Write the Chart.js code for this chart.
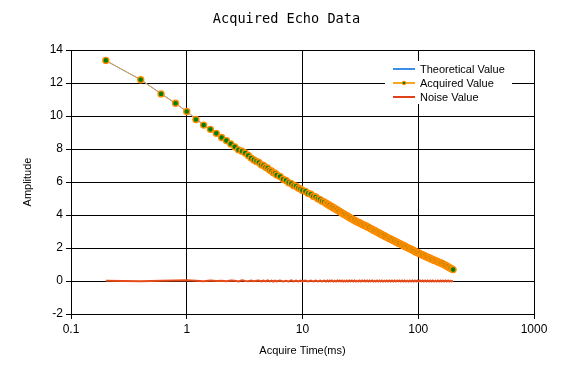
<!DOCTYPE html>
<html>
<head>
<meta charset="utf-8">
<script src="https://cdn.jsdelivr.net/npm/chart.js@4/dist/chart.umd.min.js"></script>
<style>
  body { margin: 0; background: #fff; }
  #wrap { width: 573px; height: 372px; }
</style>
</head>
<body>
<div id="wrap"><canvas id="echo" width="573" height="372"></canvas></div>
<script>
// acquisition times (ms) and amplitudes
const acqTime = [
  0.2, 0.4, 0.6, 0.8, 1.0, 1.2, 1.4, 1.6, 1.8, 2.0,
  2.2, 2.4, 2.6, 2.8, 3.0, 3.2, 3.4, 3.6, 3.8, 4.0,
  4.2, 4.4, 4.6, 4.8, 5.0, 5.2, 5.4, 5.6, 5.8, 6.0,
  6.4, 6.8, 7.2, 7.6, 8.0, 8.4, 8.8, 9.2, 9.6, 10,
  10.6, 11.2, 11.8, 12.4, 13.0, 13.6, 14.2, 14.8, 15.4, 16,
  16.4, 16.8, 17.2, 17.6, 18, 18.5, 19, 19.5, 20, 20.5,
  21, 21.5, 22, 22.5, 23, 23.6, 24.2, 24.8, 25.4, 26,
  26.7, 27.4, 28.1, 28.8, 29.5, 30.3, 31.1, 31.9, 32.7, 33.5,
  34.4, 35.3, 36.2, 37.1, 38, 39, 40, 41, 42, 43,
  44.1, 45.2, 46.3, 47.4, 48.6, 49.8, 51, 52.3, 53.6, 55,
  56.4, 57.8, 59.3, 60.8, 62.4, 64, 65.6, 67.3, 69, 70.8,
  72.6, 74.5, 76.4, 78.4, 80.4, 82.5, 84.6, 86.8, 89, 91.3,
  93.6, 96, 98.5, 101, 103.6, 106.3, 109, 111.8, 114.7, 117.6,
  120.6, 123.7, 126.9, 130.2, 133.6, 137, 140.5, 144.1, 147.8, 151.6,
  155.5, 159.5, 163.6, 167.8, 172.1, 176.5, 181, 185.6, 190.4, 195.2,
  200
];

const acquiredValue = [
  13.37, 12.20, 11.34, 10.77, 10.27, 9.79, 9.45, 9.19, 8.95, 8.70,
  8.51, 8.31, 8.13, 7.95, 7.86, 7.76, 7.61, 7.45, 7.34, 7.25,
  7.18, 7.05, 7.00, 6.89, 6.84, 6.72, 6.67, 6.56, 6.53, 6.42,
  6.33, 6.17, 6.09, 5.96, 5.90, 5.78, 5.74, 5.63, 5.58, 5.49,
  5.43, 5.31, 5.26, 5.14, 5.09, 4.98, 4.93, 4.84, 4.79, 4.70,
  4.67, 4.60, 4.59, 4.51, 4.50, 4.42, 4.41, 4.34, 4.31, 4.24,
  4.22, 4.15, 4.13, 4.06, 4.05, 3.98, 3.96, 3.89, 3.87, 3.81,
  3.78, 3.71, 3.69, 3.62, 3.61, 3.55, 3.53, 3.47, 3.45, 3.40,
  3.38, 3.32, 3.30, 3.24, 3.22, 3.16, 3.14, 3.08, 3.06, 3.00,
  2.98, 2.92, 2.90, 2.84, 2.82, 2.76, 2.75, 2.68, 2.66, 2.60,
  2.58, 2.53, 2.51, 2.45, 2.43, 2.37, 2.35, 2.29, 2.28, 2.22,
  2.20, 2.14, 2.12, 2.06, 2.04, 1.98, 1.97, 1.91, 1.89, 1.83,
  1.81, 1.75, 1.73, 1.68, 1.66, 1.60, 1.59, 1.53, 1.52, 1.46,
  1.45, 1.39, 1.38, 1.32, 1.30, 1.25, 1.24, 1.19, 1.17, 1.12,
  1.11, 1.06, 1.04, 0.98, 0.96, 0.89, 0.87, 0.81, 0.78, 0.72,
  0.69
];

const noiseValue = [
  0.01, -0.02, 0.02, 0.03, 0.05, 0.02, -0.01, 0.03, 0.00, 0.02,
  -0.02, 0.03, 0.01, -0.03, 0.04, 0.00, -0.02, 0.03, -0.01, 0.02,
  0.03, -0.02, 0.02, -0.03, 0.04, -0.02, 0.03, -0.03, 0.03, -0.02,
  0.03, -0.03, 0.02, -0.03, 0.04, -0.02, 0.03, -0.03, 0.03, -0.02,
  0.03, -0.03, 0.02, -0.03, 0.03, -0.02, 0.03, -0.03, 0.02, -0.03,
  0.03, -0.03, 0.03, -0.02, 0.03, -0.03, 0.02, -0.03, 0.03, -0.02,
  0.03, -0.03, 0.03, -0.03, 0.02, -0.03, 0.03, -0.03, 0.03, -0.02,
  0.03, -0.03, 0.03, -0.03, 0.02, -0.03, 0.03, -0.03, 0.03, -0.02,
  0.03, -0.03, 0.03, -0.03, 0.03, -0.02, 0.03, -0.03, 0.02, -0.03,
  0.03, -0.03, 0.03, -0.03, 0.03, -0.03, 0.02, -0.03, 0.03, -0.03,
  0.03, -0.03, 0.03, -0.03, 0.03, -0.03, 0.03, -0.02, 0.03, -0.03,
  0.03, -0.03, 0.03, -0.03, 0.02, -0.03, 0.03, -0.03, 0.03, -0.03,
  0.03, -0.03, 0.03, -0.03, 0.03, -0.02, 0.03, -0.03, 0.03, -0.03,
  0.03, -0.03, 0.03, -0.03, 0.03, -0.03, 0.02, -0.03, 0.03, -0.03,
  0.03, -0.03, 0.03, -0.03, 0.03, -0.03, 0.03, -0.03, 0.02, -0.03,
  0.00
];

// theoretical curve, sparser
const theoTime = [0.2, 0.4, 0.6, 0.8, 1, 1.5, 2, 3, 4, 5, 7, 10, 14, 20, 27, 38, 53, 74, 100, 134, 164, 200];
const theoValue = [13.35, 12.2, 11.36, 10.76, 10.28, 9.3, 8.7, 7.85, 7.25, 6.82, 6.12, 5.5, 4.95, 4.3, 3.73, 3.21, 2.67, 2.16, 1.7, 1.29, 1.03, 0.69];

const xTicks = [0.1, 1, 10, 100, 1000];
const yMin = -2;
const yMax = 14;

const chartTitle = "Acquired Echo Data";
const SANS = '"Liberation Sans", Arial, sans-serif';

function pts(xs, ys) {
  return xs.map((x, i) => ({ x: x, y: ys[i] }));
}

// title centred on the whole canvas, not on the plot
const canvasTitle = {
  id: "canvasTitle",
  afterDraw(chart) {
    const ctx = chart.ctx;
    ctx.save();
    ctx.font = '13.6px "DejaVu Sans Mono", monospace';
    ctx.fillStyle = "#000";
    ctx.textAlign = "center";
    ctx.textBaseline = "middle";
    ctx.fillText(chartTitle, chart.width / 2, 19);
    ctx.restore();
  }
};

// legend drawn inside the plot, top right, on a white box
const insideLegend = {
  id: "insideLegend",
  afterDatasetsDraw(chart) {
    const ctx = chart.ctx;
    const area = chart.chartArea;
    const bx = area.right - 149;
    const by = area.top + 11;

    ctx.save();
    ctx.fillStyle = "#fff";
    ctx.fillRect(bx, by, 127, 43);

    ctx.font = "11px " + SANS;
    ctx.textBaseline = "middle";
    ctx.textAlign = "left";

    chart.data.datasets.forEach((ds, i) => {
      const y = by + 8 + i * 14;
      ctx.strokeStyle = ds.legendColor;
      ctx.lineWidth = 2;
      ctx.beginPath();
      ctx.moveTo(bx + 8, y);
      ctx.lineTo(bx + 30, y);
      ctx.stroke();

      if (ds.pointRadius > 0) {
        ctx.beginPath();
        ctx.arc(bx + 19, y, 1.8, 0, Math.PI * 2);
        ctx.fillStyle = ds.pointBackgroundColor;
        ctx.fill();
        ctx.lineWidth = 1;
        ctx.strokeStyle = ds.pointBorderColor;
        ctx.stroke();
      }

      ctx.fillStyle = "#000";
      ctx.fillText(ds.label, bx + 35, y + 0.5);
    });
    ctx.restore();
  }
};

const chart = new Chart(document.getElementById("echo"), {
  type: "line",
  data: {
    datasets: [
      {
        label: "Theoretical Value",
        data: pts(theoTime, theoValue),
        borderColor: "#3d8ee8",
        legendColor: "#3d8ee8",
        borderWidth: 1,
        pointRadius: 0,
        tension: 0,
        order: 3
      },
      {
        label: "Acquired Value",
        data: pts(acqTime, acquiredValue),
        borderColor: "#e8a040",
        legendColor: "#f5a623",
        borderWidth: 1,
        pointRadius: 3,
        pointBorderWidth: 1.4,
        pointBackgroundColor: "#008000",
        pointBorderColor: "#ff8c00",
        tension: 0,
        order: 2
      },
      {
        label: "Noise Value",
        data: pts(acqTime, noiseValue),
        borderColor: "#e64a19",
        legendColor: "#e0401a",
        borderWidth: 2,
        pointRadius: 0,
        tension: 0,
        order: 1
      }
    ]
  },
  options: {
    responsive: false,
    animation: false,
    devicePixelRatio: 1,
    layout: {
      padding: { left: 0, right: 39, top: 50, bottom: 0 }
    },
    scales: {
      x: {
        type: "logarithmic",
        min: 0.1,
        max: 1000,
        afterBuildTicks: axis => {
          axis.ticks = xTicks.map(v => ({ value: v }));
        },
        afterFit: axis => {
          axis.height = 58;
        },
        ticks: {
          autoSkip: false,
          maxRotation: 0,
          padding: 3,
          color: "#000",
          font: { family: SANS, size: 12 },
          callback: v => String(v)
        },
        grid: {
          color: "#000",
          lineWidth: 1,
          tickLength: 5,
          drawTicks: true
        },
        border: { display: true, color: "#000", width: 1 },
        title: {
          display: true,
          text: "Acquire Time(ms)",
          color: "#000",
          font: { family: SANS, size: 11 },
          padding: { top: 0, bottom: 14 }
        }
      },
      y: {
        min: yMin,
        max: yMax,
        afterFit: axis => {
          axis.width = 71;
        },
        ticks: {
          stepSize: 2,
          padding: 3,
          color: "#000",
          font: { family: SANS, size: 12 }
        },
        grid: {
          color: "#000",
          lineWidth: 1,
          tickLength: 5,
          drawTicks: true
        },
        border: { display: true, color: "#000", width: 1 },
        title: {
          display: true,
          text: "Amplitude",
          color: "#000",
          font: { family: SANS, size: 11 },
          padding: { top: 21, bottom: 0 }
        }
      }
    },
    plugins: {
      legend: { display: false },
      tooltip: { enabled: false },
      title: { display: false }
    }
  },
  plugins: [insideLegend, canvasTitle]
});
</script>
</body>
</html>
